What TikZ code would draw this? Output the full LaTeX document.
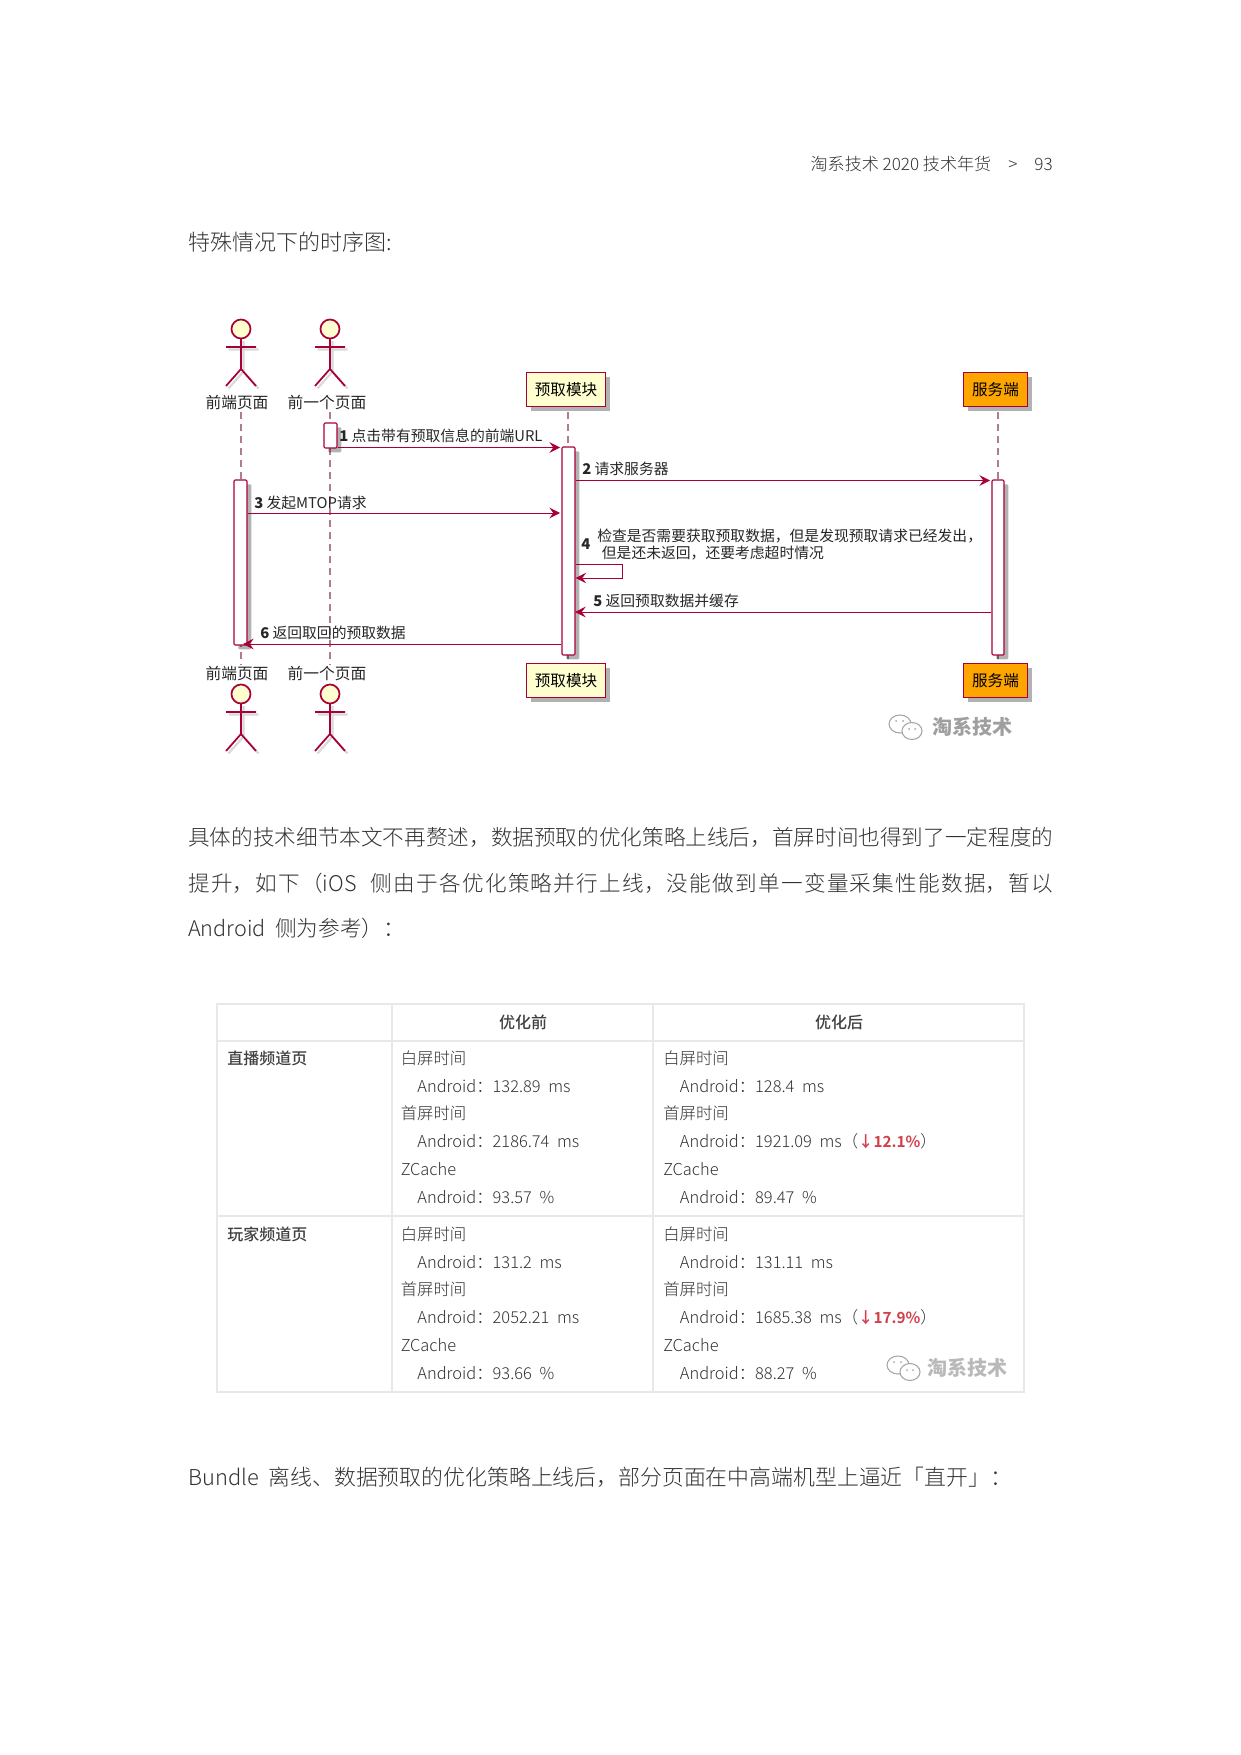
\documentclass[tikz,border=0pt]{standalone}
\usepackage{fontspec}
\setmainfont{Noto Sans CJK SC}
\newfontfamily\lightcjk{Noto Sans CJK SC Light}
\newfontfamily\mediumcjk{Noto Sans CJK SC Medium}
\XeTeXlinebreaklocale "zh"
\XeTeXlinebreakskip=0pt plus 1pt
\usepackage{tikz}
\usetikzlibrary{arrows.meta,positioning,shadows,fit}
\usepackage{xcolor}
\definecolor{umlred}{RGB}{168,0,54}
\definecolor{umlcream}{RGB}{254,254,206}
\definecolor{umlorange}{RGB}{255,165,0}
\definecolor{bodygray}{RGB}{50,50,50}
\definecolor{gridgray}{RGB}{232,232,232}
\definecolor{dropred}{RGB}{208,64,74}
\definecolor{lifegray}{RGB}{175,125,140}
\tikzset{
  umlshadow/.style={drop shadow={shadow xshift=3.2pt,shadow yshift=-3.2pt,opacity=.3,fill=black}},
  modbox/.style={draw=umlred,line width=1pt,fill=umlcream,minimum width=59pt,minimum height=25.5pt,
    inner sep=0pt,font=\fontsize{11.7}{14}\selectfont,umlshadow},
  srvbox/.style={modbox,fill=umlorange,minimum width=48pt},
  actbar/.style={draw=umlred,line width=.85pt,fill=white,rounded corners=.8pt,inner sep=0pt,umlshadow},
  actorlabel/.style={inner sep=0pt,font=\fontsize{11.8}{14}\selectfont,text=black!85},
  msgnote/.style={inner sep=0pt,anchor=west,font=\fontsize{11.1}{12.6}\selectfont,text=black!85},
  lifeline/.style={dash pattern=on 5pt off 4pt,line width=.9pt,draw=lifegray},
  msgflow/.style={-{Stealth[length=8pt,width=8pt,inset=3pt]},line width=.75pt,draw=umlred},
  paratext/.style={inner sep=0pt,anchor=west,font=\lightcjk\fontsize{16.2}{34.1}\selectfont,text=bodygray},
  cellhead/.style={inner sep=0pt,font=\mediumcjk\fontsize{12}{15}\selectfont,text=black!75},
  celltext/.style={inner sep=0pt,anchor=north west,align=left,font=\lightcjk\fontsize{12.3}{20.85}\selectfont,text=bodygray},
  gridline/.style={draw=gridgray,line width=.8pt},
  markmain/.style={inner sep=0pt,font=\bfseries\fontsize{15}{18}\selectfont,text=gray!75},
  stick/.pic={
    \draw[line width=1.6pt,draw=black!15] (2.5,12) -- (2.5,42.5) (-12.5,20.5) -- (17.5,20.5) (2.5,42.5) -- (-12.5,59.5) (2.5,42.5) -- (17.5,59.5);
    \draw[line width=1.3pt,draw=umlred] (0,9.5) -- (0,40) (-15,18) -- (15,18) (0,40) -- (-15,57) (0,40) -- (15,57);
    \draw[line width=1.3pt,draw=umlred,fill=umlcream] (0,0) circle (9.5);
  },
  chaticon/.pic={
    \draw[line width=.8pt,draw=gray!70,fill=white] (-7,-3) ellipse (11 and 9);
    \draw[line width=.8pt,draw=gray!70,fill=white] (5,4) ellipse (10 and 8.5);
    \fill[gray!70] (-11,-6) circle (1) (-4,-6) circle (1) (2,2) circle (1) (8,2) circle (1);
  }
}
\newcommand{\rowcell}[4]{白屏时间\\\hspace*{12.5pt}Android：#1\hspace{3pt} ms\\首屏时间\\\hspace*{12.5pt}Android：#2\hspace{3pt} ms#3\\ZCache\\\hspace*{12.5pt}Android：#4\hspace{3pt} \%}
\newcommand{\cutmark}[1]{（{\fontsize{11.5}{20.85}\selectfont\color{dropred}\bfseries ↓#1\%}）}
\begin{document}
\begin{tikzpicture}[x=.75pt,y=-.75pt]
  \useasboundingbox (0,0) rectangle (1240,1755);
  \node[inner sep=0pt,anchor=east,font=\lightcjk\fontsize{12.8}{15}\selectfont,text=bodygray] (pagehead) at (1053,164) {淘系技术 2020 技术年货\quad>\quad 93};
  \node[paratext,font=\lightcjk\fontsize{16.5}{34.1}\selectfont] (seqtitle) at (188,242) {特殊情况下的时序图:};
  \pic at (241,329) {stick};
  \pic at (330,329) {stick};
  \pic at (241,694) {stick};
  \pic at (330,694) {stick};
  \node[actorlabel] (pagetop) at (237,403) {前端页面};
  \node[actorlabel] (prevtop) at (327,403) {前一个页面};
  \node[actorlabel] (pagebot) at (237,673) {前端页面};
  \node[actorlabel] (prevbot) at (327,673) {前一个页面};
  \node[modbox] (modtop) at (566,389.5) {预取模块};
  \node[modbox] (modbot) at (566,680.5) {预取模块};
  \node[srvbox] (srvtop) at (995.5,389.5) {服务端};
  \node[srvbox] (srvbot) at (995.5,680.5) {服务端};
  \coordinate (pageline) at (241,412);
  \coordinate (prevline) at (330,412);
  \coordinate (modline) at (568,412);
  \coordinate (srvline) at (998,412);
  \draw[lifeline] (pageline) -- (pageline |- pagebot.north);
  \draw[lifeline] (prevline) -- (prevline |- prevbot.north);
  \draw[lifeline] (modline) -- (modline |- modbot.north);
  \draw[lifeline] (srvline) -- (srvline |- srvbot.north);
  \node[actbar,fit={(324,423) (337,448)}] (barprev) {};
  \node[actbar,fit={(234,480) (247,645)}] (barpage) {};
  \node[actbar,fit={(562,447) (575,655)}] (barmod) {};
  \node[actbar,fit={(992,480) (1004,655)}] (barsrv) {};
  \coordinate (tipone) at (560,447.5);
  \coordinate (tiptwo) at (990,480.5);
  \coordinate (tipthree) at (560,513);
  \coordinate (selfa) at (622,564);
  \coordinate (selfb) at (622,578);
  \coordinate (tipfive) at (575,612);
  \coordinate (tipsix) at (243,644);
  \draw[msgflow] (barprev.east |- tipone) -- (tipone);
  \draw[msgflow] (barmod.east |- tiptwo) -- (tiptwo);
  \draw[msgflow] (barpage.east |- tipthree) -- (tipthree);
  \draw[msgflow] (barmod.east |- selfa) -- (selfa) -- (selfb) -- (barmod.east |- selfb);
  \draw[msgflow] (barsrv.west |- tipfive) -- (tipfive);
  \draw[msgflow] (barmod.west |- tipsix) -- (tipsix);
  \node[msgnote] (noteone) at (339,436) {\textbf{1} 点击带有预取信息的前端URL};
  \node[msgnote] (notetwo) at (582,469) {\textbf{2} 请求服务器};
  \node[msgnote] (notethree) at (254,503) {\textbf{3} 发起MTOP请求};
  \node[msgnote] (notefour) at (581,544) {\textbf{4}};
  \node[msgnote,align=left] (notefourb) at (597,544.5) {检查是否需要获取预取数据，但是发现预取请求已经发出，\\\hspace*{3.5pt}但是还未返回，还要考虑超时情况};
  \node[msgnote] (notefive) at (593,601) {\textbf{5} 返回预取数据并缓存};
  \node[msgnote] (notesix) at (260,633) {\textbf{6} 返回取回的预取数据};
  \pic at (907,727) {chaticon};
  \node[markmain] (marktop) at (972.5,727) {淘系技术};
  \node[paratext,anchor=north west,text width=648.75pt,align=justify] (bodypara) at (188,827.5) {具体的技术细节本文不再赘述，数据预取的优化策略上线后，首屏时间也得到了一定程度的\linebreak 提升，如下（iOS\ \ 侧由于各优化策略并行上线，没能做到单一变量采集性能数据，暂以\linebreak Android\ \ 侧为参考）：};
  \draw[gridline] (217,1004) rectangle (1024,1392);
  \draw[gridline] (217,1041) -- (1024,1041);
  \draw[gridline] (217,1216) -- (1024,1216);
  \draw[gridline] (392,1004) -- (392,1392);
  \draw[gridline] (653,1004) -- (653,1392);
  \node[cellhead] (headbefore) at (523,1022) {优化前};
  \node[cellhead] (headafter) at (839,1022) {优化后};
  \node[cellhead,anchor=west] (rowlive) at (227,1058) {直播频道页};
  \node[cellhead,anchor=west] (rowplay) at (227,1234) {玩家频道页};
  \node[celltext] (livebefore) at (400.5,1050.2) {\rowcell{132.89}{2186.74}{}{93.57}};
  \node[celltext] (liveafter) at (663,1050.2) {\rowcell{128.4}{1921.09}{\cutmark{12.1}}{89.47}};
  \node[celltext] (playbefore) at (400.5,1226.2) {\rowcell{131.2}{2052.21}{}{93.66}};
  \node[celltext] (playafter) at (663,1226.2) {\rowcell{131.11}{1685.38}{\cutmark{17.9}}{88.27}};
  \pic at (905,1368) {chaticon};
  \node[markmain,text=gray!55] (markgrid) at (967,1368) {淘系技术};
  \node[paratext,font=\lightcjk\fontsize{16.4}{34.1}\selectfont] (bundleline) at (188,1477) {Bundle\ \ 离线、数据预取的优化策略上线后，部分页面在中高端机型上逼近「直开」：};
\end{tikzpicture}
\end{document}
